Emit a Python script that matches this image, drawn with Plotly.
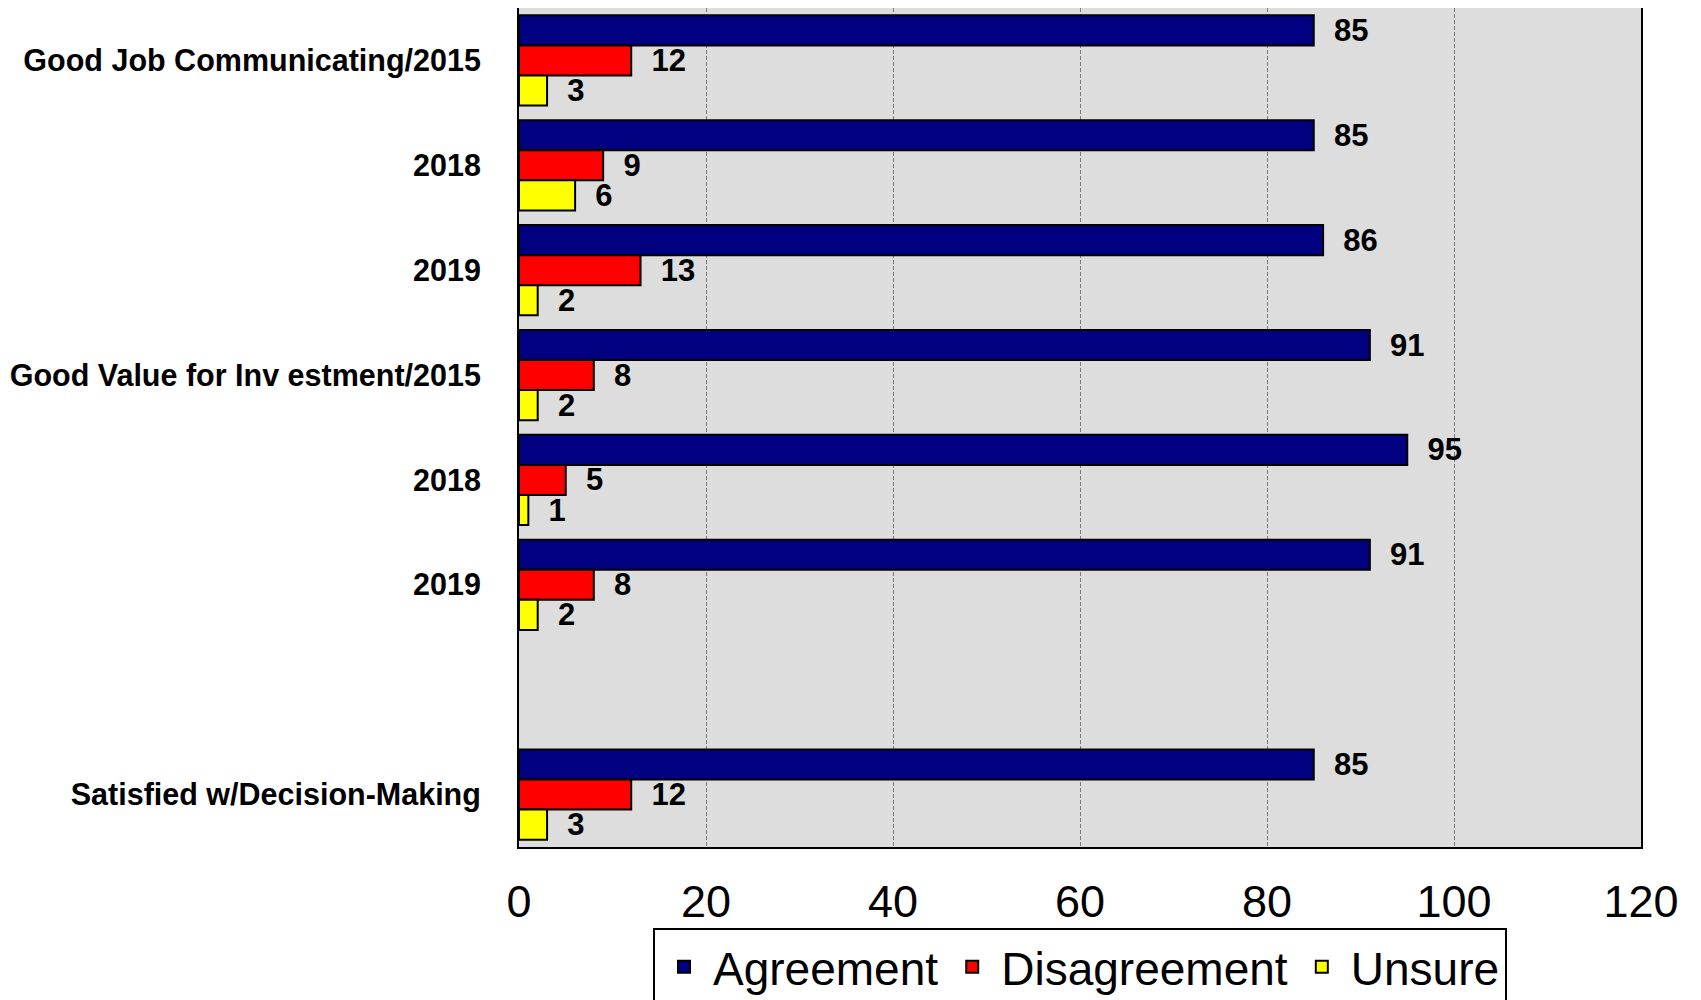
import plotly.graph_objects as go

categories = [
    "Good Job Communicating/2015",
    "2018",
    "2019",
    "Good Value for Inv estment/2015",
    "2018",
    "2019",
    "",
    "Satisfied w/Decision-Making",
]
agreement = [85, 85, 86, 91, 95, 91, None, 85]
disagreement = [12, 9, 13, 8, 5, 8, None, 12]
unsure = [3, 6, 2, 2, 1, 2, None, 3]
series_names = ["Agreement", "Disagreement", "Unsure"]
series_colors = ["#000080", "#FF0000", "#FFFF00"]
x_ticks = [0, 20, 40, 60, 80, 100, 120]

positions = list(range(len(categories)))
FONT = "Liberation Sans, Arial, sans-serif"

fig = go.Figure()
for name, vals, color in zip(series_names, [agreement, disagreement, unsure], series_colors):
    fig.add_trace(go.Bar(
        name=name,
        y=positions,
        x=vals,
        orientation="h",
        marker=dict(color=color, line=dict(color="black", width=2)),
        text=vals,
        texttemplate="  %{x}",
        textposition="outside",
        textfont=dict(family=FONT, size=31, color="black", weight="bold"),
        constraintext="none",
        cliponaxis=False,
    ))

# The page body has an 8px default margin, so the figure is sized to fit the window.
fig.update_layout(
    width=1693,
    height=992,
    barmode="group",
    bargap=0.14,
    bargroupgap=0,
    plot_bgcolor="#DDDDDD",
    paper_bgcolor="white",
    margin=dict(l=511, r=60, t=0, b=153, autoexpand=False),
    font=dict(family=FONT, color="black"),
    showlegend=True,
    legend=dict(
        orientation="h",
        x=0.5, xanchor="center",
        y=-0.097, yanchor="top",
        font=dict(size=46, family=FONT, color="black"),
        bordercolor="black",
        borderwidth=2,
        bgcolor="white",
        itemwidth=48,
    ),
)
fig.update_xaxes(
    range=[0, 120],
    tickvals=x_ticks,
    ticktext=[str(t) for t in x_ticks],
    showgrid=True,
    gridcolor="#7A7A7A",
    griddash="4px,2px",
    gridwidth=1,
    zeroline=False,
    showline=True,
    linecolor="black",
    linewidth=2,
    mirror=True,
    ticks="",
    tickfont=dict(size=45, family=FONT, color="black"),
    ticklabelstandoff=14,
)
fig.update_yaxes(
    range=[len(categories) - 0.5, -0.5],
    tickvals=positions,
    ticktext=categories,
    showgrid=False,
    zeroline=False,
    showline=True,
    linecolor="black",
    linewidth=2,
    mirror=True,
    ticks="",
    tickfont=dict(size=30.5, family=FONT, color="black", weight="bold"),
    ticklabelstandoff=30,
)

fig.write_html("out.html")
